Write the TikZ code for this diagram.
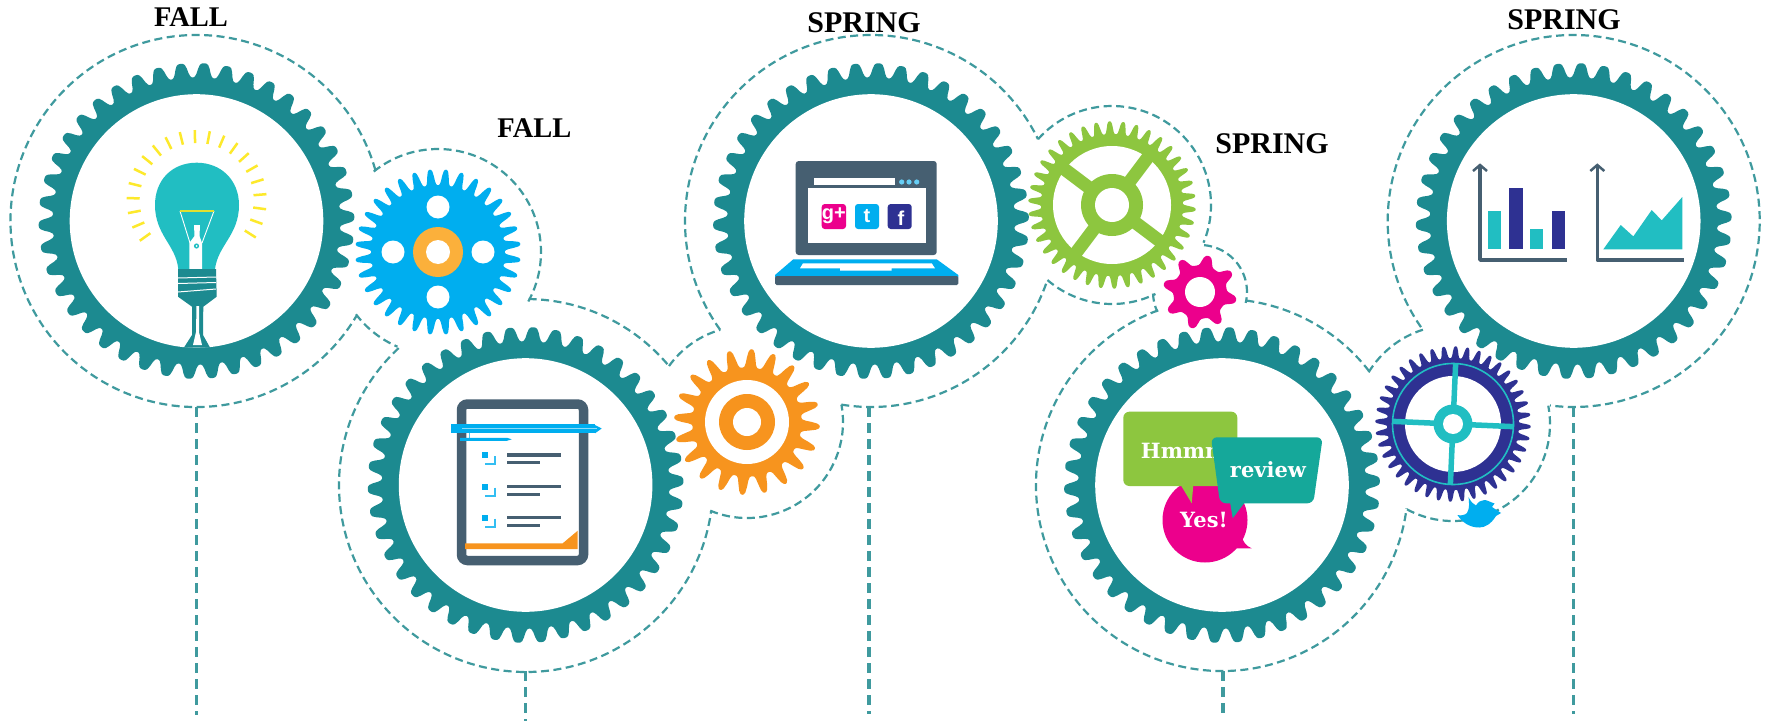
\documentclass[tikz,border=0pt]{standalone}
\usepackage{fontspec}
\setmainfont{Liberation Serif}
\newfontfamily\slabfont{DejaVu Serif}
\newfontfamily\logofont{Liberation Sans}
\definecolor{gearteal}{HTML}{1C8A90}
\definecolor{dashteal}{HTML}{3F9A9E}
\definecolor{skyblue}{HTML}{00AEEF}
\definecolor{gearorange}{HTML}{F7941E}
\definecolor{hubgold}{HTML}{FBB03B}
\definecolor{leaf}{HTML}{8DC63F}
\definecolor{hotpink}{HTML}{EC008C}
\definecolor{navy}{HTML}{2E3192}
\definecolor{aqua}{HTML}{21BEC2}
\definecolor{slate}{HTML}{465F71}
\definecolor{seagreen}{HTML}{15A89A}
\definecolor{raygold}{HTML}{FDE92B}
\tikzset{
  dashring/.style={draw=dashteal,line width=2.2pt,dash pattern=on 8pt off 4.5pt},
  dropline/.style={draw=dashteal,line width=3.2pt,dash pattern=on 9.5pt off 6.5pt},
  fallmark/.style={font=\fontsize{28.5}{30}\selectfont\bfseries,text=black,inner sep=0pt},
  springmark/.style={font=\fontsize{30}{32}\selectfont\bfseries,text=black,inner sep=0pt},
  bubbletext/.style={font=\slabfont\fontsize{21}{23}\selectfont\bfseries,text=white,inner sep=0pt},
  logotext/.style={font=\logofont\fontsize{20}{22}\selectfont\bfseries,text=white,inner sep=0pt},
  axisline/.style={draw=slate,line width=3.5pt},
  textline/.style={draw=slate,line width=3.5pt},
}
% cx, cy, root radius, outer radius, teeth, phase, narrowing, colour
\newcommand{\gearbody}[8]{%
  \pgfmathtruncatemacro{\gsamples}{#5*14+1}%
  \fill[#8] plot[domain=0:360,samples=\gsamples,variable=\t]
   ({#1+(#3+(#4-#3)*0.5*(1+1.1*tanh(1.5*(cos(#5*(\t-#6))-#7))))*cos(\t)},
    {#2+(#3+(#4-#3)*0.5*(1+1.1*tanh(1.5*(cos(#5*(\t-#6))-#7))))*sin(\t)}) -- cycle;}
\newcommand{\bigcog}[3]{%
  \coordinate (#1) at (#2,#3);
  \gearbody{#2}{#3}{143}{157.6}{42}{7.08}{-0.2}{gearteal}
  \fill[white] (#1) circle[radius=126.8];}
\newcommand{\ringarc}[4]{\draw[dashring] (#1) ++(#3:#2) arc[start angle=#3,end angle=#4,radius=#2];}
\begin{document}
\begin{tikzpicture}[x=1pt,y=-1pt]
\useasboundingbox (0,0) rectangle (1779,725);
\fill[white] (0,0) rectangle (1779,725);

% ---------- dashed outline
\coordinate (g1) at (196.5,221);
\coordinate (g2) at (526,485);
\coordinate (g3) at (871,221);
\coordinate (g4) at (1222,485);
\coordinate (g5) at (1573.7,221);
\coordinate (sblue) at (438,252);
\coordinate (sorange) at (747,422);
\coordinate (sgreen) at (1112,205);
\coordinate (spink) at (1200,292);
\coordinate (snavy) at (1453,424);
\ringarc{g1}{186}{-15.9}{-329.3}
\ringarc{sblue}{103}{-128.6}{28.7}
\ringarc{sblue}{103}{142.8}{113.2}
\ringarc{g2}{187}{-132.9}{-352.1}
\ringarc{g2}{186}{-89.2}{-39.8}
\ringarc{sorange}{96}{112.5}{-10.4}
\ringarc{sorange}{96}{-144.3}{-106.2}
\ringarc{g3}{186}{99.2}{18.5}
\ringarc{g3}{186}{144.2}{333.9}
\ringarc{sgreen}{99}{-138.3}{22.4}
\ringarc{sgreen}{99}{130.7}{64}
\ringarc{spink}{47}{178}{155}
\ringarc{spink}{47}{-85}{13.4}
\ringarc{g4}{186}{-110.1}{-352.8}
\ringarc{g4}{186}{-82.5}{-37.9}
\ringarc{snavy}{99}{-148.5}{-107.7}
\ringarc{snavy}{97}{118.3}{-10.9}
\ringarc{g5}{186}{145.2}{457.3}

% ---------- drop lines
\coordinate (d1a) at (196.5,407); \coordinate (d1b) at (196.5,715);
\coordinate (d2a) at (525.3,671); \coordinate (d2b) at (525.3,721);
\coordinate (d3a) at (869,407);   \coordinate (d3b) at (869,714);
\coordinate (d4a) at (1223,671);  \coordinate (d4b) at (1223,713);
\coordinate (d5a) at (1573.5,407);\coordinate (d5b) at (1573.5,714);
\draw[dropline] (d1a) -- (d1b);
\draw[dropline] (d2a) -- (d2b);
\draw[dropline] (d3a) -- (d3b);
\draw[dropline] (d4a) -- (d4b);
\draw[dropline] (d5a) -- (d5b);

% ---------- big gears
\bigcog{g1}{196.5}{221}
\bigcog{g2}{525.6}{485}
\bigcog{g3}{871}{221}
\bigcog{g4}{1222}{485}
\bigcog{g5}{1573.7}{221}

% ---------- sky blue gear
\gearbody{438}{252}{67}{83}{32}{5.6}{0.1}{skyblue}
\foreach \a in {0,90,180,270} \fill[white] (sblue) ++(\a:45) circle[radius=11.5];
\fill[hubgold] (sblue) circle[radius=25];
\fill[white] (sblue) circle[radius=12];

% ---------- orange gear
\gearbody{747}{422}{55}{74}{20}{3.7}{0.25}{gearorange}
\fill[white] (sorange) circle[radius=42];
\fill[gearorange] (sorange) circle[radius=28];
\fill[white] (sorange) circle[radius=14];

% ---------- green gear
\gearbody{1112}{205}{71}{84}{38}{3.1}{0.1}{leaf}
\fill[white] (sgreen) circle[radius=59];
\foreach \a in {37,127} \draw[leaf,line width=13pt] (sgreen) ++(\a:62) -- ++(\a+180:124);
\fill[leaf] (sgreen) circle[radius=31];
\fill[white] (sgreen) circle[radius=17];

% ---------- pink gear
\gearbody{1200}{292}{27}{38}{8}{13}{0.35}{hotpink}
\fill[white] (spink) circle[radius=15];

% ---------- navy gear
\gearbody{1453}{424}{66}{78}{40}{2}{0.1}{navy}
\fill[white] (snavy) circle[radius=48];
\draw[aqua,line width=1.6pt] (snavy) circle[radius=60.5];
\foreach \a in {2.5,92.5} \draw[aqua,line width=5.5pt] (snavy) ++(\a:61) -- ++(\a+180:122);
\fill[aqua] (snavy) circle[radius=19.5];
\fill[white] (snavy) circle[radius=10];

% ---------- bird
\fill[skyblue] (1468.5,497) .. controls (1471,502) and (1473,504) .. (1476,505.5)
  .. controls (1478,502) and (1481,500) .. (1484.4,500)
  .. controls (1487,500) and (1490,502) .. (1494.5,503.5)
  -- (1492,507) -- (1501,513) -- (1496,516)
  .. controls (1491,524) and (1485,527.5) .. (1479.3,527.5)
  .. controls (1469,527.5) and (1462,522) .. (1457.4,515)
  .. controls (1461,516) and (1465,515) .. (1467,513)
  .. controls (1470,508) and (1469,502) .. cycle;

% ---------- light bulb
\foreach \i in {0,...,20}
  \draw[raygold,line width=2.5pt] (196.7,200) ++({144.4+\i*12.4}:57) -- ++({144.4+\i*12.4}:13);
\fill[aqua] (178.3,269) .. controls (176,245) and (155,235) .. (155,205)
  .. controls (155,180) and (172,162.7) .. (196.7,162.7)
  .. controls (221,162.7) and (239,180) .. (239,205)
  .. controls (239,235) and (218,245) .. (215,269) -- cycle;
\fill[white] (189.3,269) -- (189.3,243) -- (194.5,236) -- (194,225) -- (200,225) -- (199.5,236) -- (202,243) -- (202,269) -- cycle;
\fill[aqua] (196.5,246) circle[radius=2.6];
\fill[white] (196.5,246) circle[radius=1];
\draw[white,line width=0.9pt] (180,211) -- (190,243) (214,211) -- (202,243);
\draw[raygold!75!leaf,line width=1.3pt] (180,211) -- (214,211);
\fill[gearteal] (178,269) -- (216,269) -- (216.7,296.7) -- (203.3,306.7) -- (203,335) -- (210,347.5) -- (184,347.5) -- (192,335) -- (192,306.7) -- (178,296.7) -- cycle;
\draw[white,line width=1pt] (178,278) -- (216,277) (178,283.5) -- (216,282.5) (178,292) -- (216,289);
\fill[white] (196.5,306) -- (199,306) -- (199,332) -- (202,345) -- (193,345) -- (196,332) -- cycle;

% ---------- document
\draw[slate,line width=9.5pt,rounded corners=6pt,fill=white] (461.5,404) rectangle (583.5,560.5);
\fill[gearorange] (465,543.3) -- (562.7,543.3) -- (577.7,530.7) -- (577.7,549) -- (465,549) -- cycle;
\fill[skyblue] (450.7,424.3) rectangle (595,433.3);
\fill[skyblue] (595,425) -- (601.7,428.5) -- (595,433.3) -- cycle;
\draw[white!55!skyblue,line width=1pt] (462,428) -- (597,428);
\draw[skyblue!70!white,line width=1pt] (469,433) -- (469,439);
\fill[skyblue] (460,437.8) -- (507,437.8) -- (511.7,439.3) -- (507,440.8) -- (460,440.8) -- cycle;
\foreach \y in {455,486.7,517.7} {
  \fill[skyblue] (482,{\y-3}) rectangle (488,{\y+3});
  \draw[skyblue!80!white,line width=1.6pt] (495,{\y+1}) -- (495,{\y+9}) -- (485,{\y+9});
  \draw[textline] (507.3,\y) -- (560.5,\y);
  \draw[textline] (507.3,{\y+7.7}) -- (540,{\y+7.7});
}

% ---------- laptop
\fill[slate,rounded corners=3pt] (795.7,161) rectangle (936.7,255);
\fill[white] (814.3,178.3) rectangle (895,185);
\foreach \x in {901.7,909,916.7} \fill[skyblue!60!white] (\x,182) circle[radius=2.6];
\fill[white] (807.7,187.7) rectangle (925.7,243.3);
\fill[hotpink,rounded corners=3pt] (821.7,204) rectangle (846,229);
\fill[skyblue,rounded corners=3pt] (855,204) rectangle (879,229);
\fill[navy,rounded corners=3pt] (887.7,204) rectangle (911.7,229);
\node[logotext] (gplus) at (833.8,216) {g+};
\node[logotext] (twit) at (867,216) {t};
\node[logotext] (face) at (901,218) {f};
\fill[skyblue] (793.3,259.3) -- (936.7,259.3) -- (958.3,275) -- (958.3,277) -- (775,277) -- (775,275) -- cycle;
\fill[slate,rounded corners=1.5pt] (775,276) rectangle (958.3,285);
\fill[white] (803,263.3) -- (931.7,263.3) -- (935,268.3) -- (891.7,268.3) -- (891.7,270.7) -- (840,270.7) -- (840,268.3) -- (800,268.3) -- cycle;

% ---------- speech bubbles
\fill[hotpink] (1205,520) circle[radius=42.5];
\fill[hotpink] (1235,548.3) -- (1251.7,548.3) .. controls (1246,546) and (1243,542) .. (1241.7,536) -- cycle;
\fill[leaf,rounded corners=6pt] (1123.3,411.7) rectangle (1237.3,486);
\fill[leaf] (1180.7,485) -- (1191.7,503.3) -- (1193.3,485) -- cycle;
\node[bubbletext,anchor=west] (hm) at (1140.7,450.7) {Hmmm};
\fill[seagreen,rounded corners=6pt] (1211,437.3) -- (1322.7,437.3) -- (1313.3,503.3) -- (1220,503.3) -- cycle;
\fill[seagreen] (1230,502) -- (1232.7,518.3) -- (1245,502) -- cycle;
\node[bubbletext] (rev) at (1268,470) {review};
\node[bubbletext] (yes) at (1204,520) {Yes!};

% ---------- charts
\fill[aqua] (1488,210.7) rectangle (1500.7,249.3);
\fill[navy] (1509,187.5) rectangle (1522.7,249.3);
\fill[aqua] (1530,229.3) rectangle (1543.3,249.3);
\fill[navy] (1551.7,210.7) rectangle (1565,249.3);
\fill[aqua] (1603.3,249.3) -- (1620.7,225) -- (1633.3,236.4) -- (1651.7,210) -- (1661.7,220.4) -- (1682.3,197) -- (1682.3,249.3) -- cycle;
\coordinate (ax1t) at (1480,166); \coordinate (ax1o) at (1480,260); \coordinate (ax1r) at (1566.7,260);
\coordinate (ax2t) at (1597.3,166); \coordinate (ax2o) at (1597.3,260); \coordinate (ax2r) at (1684,260);
\draw[axisline,line join=round] (ax1t) -- (ax1o) -- (ax1r);
\draw[axisline,line join=round] (ax2t) -- (ax2o) -- (ax2r);
\draw[slate,line width=2.5pt] (1473,171) -- (1480,165) -- (1487,171);
\draw[slate,line width=2.5pt] (1590.3,171) -- (1597.3,165) -- (1604.3,171);

% ---------- labels
\node[fallmark] (fall1) at (191,17.5) {FALL};
\node[fallmark] (fall2) at (534.4,128) {FALL};
\node[springmark] (spr1) at (864,22.5) {SPRING};
\node[springmark] (spr2) at (1272,144) {SPRING};
\node[springmark] (spr3) at (1564,19.5) {SPRING};
\end{tikzpicture}
\end{document}
